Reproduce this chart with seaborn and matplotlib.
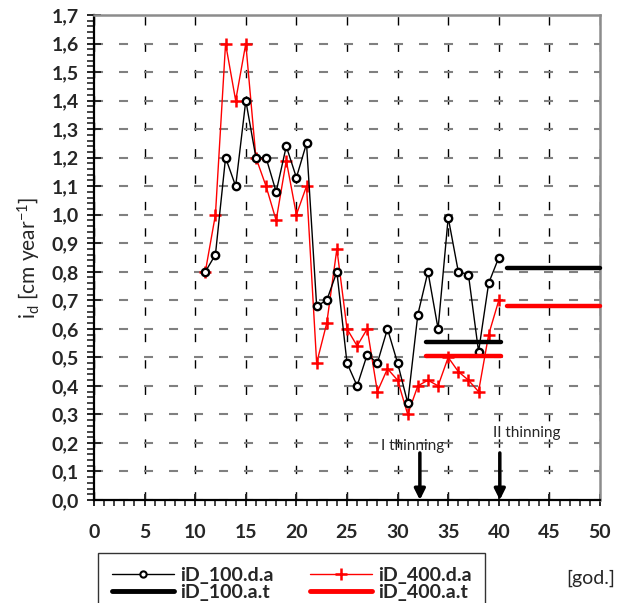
import matplotlib
matplotlib.use("Agg")
import matplotlib.pyplot as plt
import seaborn as sns
import numpy as np
from matplotlib.ticker import MultipleLocator, FuncFormatter
from matplotlib.lines import Line2D

# ---- data ----
years = [11, 12, 13, 14, 15, 16, 17, 18, 19, 20, 21, 22, 23, 24, 25,
         26, 27, 28, 29, 30, 31, 32, 33, 34, 35, 36, 37, 38, 39, 40]
id_100_da = [0.80, 0.86, 1.20, 1.10, 1.40, 1.20, 1.20, 1.08, 1.24, 1.13,
             1.25, 0.68, 0.70, 0.80, 0.48, 0.40, 0.51, 0.48, 0.60, 0.48,
             0.34, 0.65, 0.80, 0.60, 0.99, 0.80, 0.79, 0.52, 0.76, 0.85]
id_400_da = [0.80, 1.00, 1.60, 1.40, 1.60, 1.20, 1.10, 0.98, 1.19, 1.00,
             1.10, 0.48, 0.62, 0.88, 0.60, 0.54, 0.60, 0.38, 0.46, 0.42,
             0.30, 0.40, 0.42, 0.40, 0.50, 0.45, 0.42, 0.38, 0.58, 0.70]
at_x_first = [32.8, 40.2]
id_100_at_first = [0.555, 0.555]
id_400_at_first = [0.505, 0.505]
at_x_second = [40.8, 50.0]
id_100_at_second = [0.813, 0.813]
id_400_at_second = [0.681, 0.681]
thinning_x = [32.2, 40.1]
thinning_labels = ["I thinning", "II thinning"]
labels = ["iD_100.d.a", "iD_400.d.a", "iD_100.a.t", "iD_400.a.t"]

sns.set_style("white")
plt.rcParams["font.family"] = ["Lato", "DejaVu Sans"]
plt.rcParams["lines.scale_dashes"] = False
plt.rcParams["mathtext.fontset"] = "custom"
plt.rcParams["mathtext.rm"] = "Lato"
plt.rcParams["mathtext.it"] = "Lato"

fig = plt.figure(figsize=(6.29, 6.03), dpi=100)
ax = fig.add_axes([94 / 629, 1 - 500 / 603, (600 - 94) / 629, (500 - 15) / 603])

# grid
ax.set_axisbelow(True)
ax.grid(axis="y", which="major", color="#808080", lw=1.5, ls=(0, (6.5, 11.5)))
ax.grid(axis="x", which="major", color="black", lw=1.0, ls=(0, (6, 13)))

# series
sns.lineplot(x=years, y=id_400_da, ax=ax, color="red", lw=1.0, marker="+",
             markersize=9, mew=1.8, mec="red", zorder=3)
sns.lineplot(x=years, y=id_100_da, ax=ax, color="black", lw=1.0, marker="o",
             markersize=5.3, mew=1.7, mfc="white", mec="black", zorder=4)
sns.lineplot(x=at_x_first, y=id_100_at_first, ax=ax, color="black", lw=3.2, zorder=5)
sns.lineplot(x=at_x_first, y=id_400_at_first, ax=ax, color="red", lw=3.2, zorder=5)
sns.lineplot(x=at_x_second, y=id_100_at_second, ax=ax, color="black", lw=3.2, zorder=5, clip_on=False)
sns.lineplot(x=at_x_second, y=id_400_at_second, ax=ax, color="red", lw=3.2, zorder=5, clip_on=False)

# thinning arrows
for xv in thinning_x:
    ax.annotate("", xy=(xv, 0.0), xytext=(xv, 0.165),
                arrowprops=dict(arrowstyle="-|>", color="black", lw=2.5,
                                mutation_scale=16, shrinkA=0, shrinkB=0),
                zorder=6, annotation_clip=False)
ax.text(34.6, 0.189, thinning_labels[0], fontsize=11, va="center", ha="right")
ax.text(39.4, 0.235, thinning_labels[1], fontsize=11, va="center", ha="left")

ax.set_xlim(0, 50)
ax.set_ylim(0, 1.7)
ax.xaxis.set_major_locator(MultipleLocator(5))
ax.xaxis.set_minor_locator(MultipleLocator(1))
ax.yaxis.set_major_locator(MultipleLocator(0.1))
ax.yaxis.set_minor_locator(MultipleLocator(0.02))
ax.yaxis.set_major_formatter(FuncFormatter(lambda v, p: f"{v:.1f}".replace(".", ",")))

for s in ["left", "bottom"]:
    ax.spines[s].set_color("black")
    ax.spines[s].set_linewidth(1.6)
for s in ["top", "right"]:
    ax.spines[s].set_color("#8c8c8c")
    ax.spines[s].set_linewidth(1.8)

ax.tick_params(axis="y", which="major", direction="inout", length=10, width=1.4,
               pad=6, labelsize=14, left=True)
ax.tick_params(axis="y", which="minor", direction="out", length=5, width=1.2, left=True)
ax.tick_params(axis="x", which="major", direction="inout", length=8, width=1.4,
               pad=13, labelsize=14, bottom=True)
ax.tick_params(axis="x", which="minor", direction="out", length=4, width=1.2, bottom=True)
for lab in ax.get_xticklabels() + ax.get_yticklabels():
    lab.set_fontweight("bold")

ax.set_xlabel("")
ax.set_ylabel(r"i$_\mathrm{d}$ [cm year$^{-1}$]", fontsize=15, labelpad=6)

handles = [
    Line2D([], [], color="black", lw=1.0, marker="o", markersize=4.5, mfc="white", mew=1.5),
    Line2D([], [], color="black", lw=3.5),
    Line2D([], [], color="red", lw=1.0, marker="+", markersize=9, mew=1.8),
    Line2D([], [], color="red", lw=3.5),
]
leg_labels = [labels[0], labels[2], labels[1], labels[3]]
leg = fig.legend(handles, leg_labels, ncol=2, loc="upper left",
                 bbox_to_anchor=(98 / 629, 1 - 553 / 603), bbox_transform=fig.transFigure,
                 frameon=True, fancybox=False, edgecolor="black", borderaxespad=0,
                 borderpad=0.7, labelspacing=0.0, handlelength=3.2, handletextpad=0.3,
                 columnspacing=1.9, numpoints=1, prop={"weight": "bold", "size": 14})
leg.get_frame().set_linewidth(1.0)

fig.text(566 / 629, 1 - 578 / 603, "[god.]", fontsize=14, va="center", ha="left")

fig.savefig("out.png", dpi=100)
